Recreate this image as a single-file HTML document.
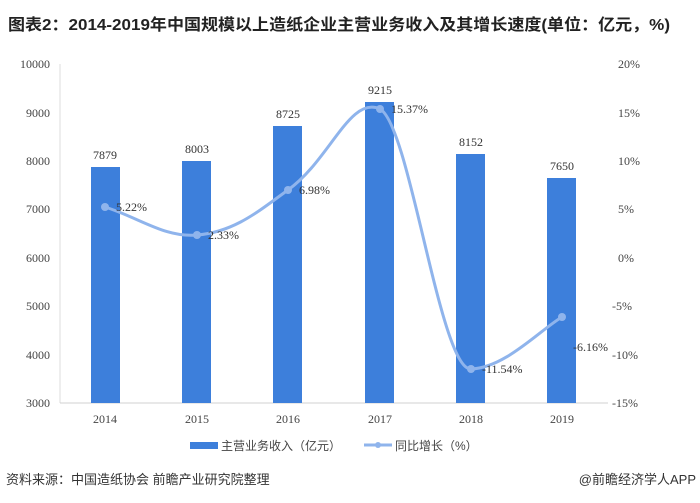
<!DOCTYPE html><html><head><meta charset="utf-8"><style>body{margin:0;background:#fff;width:700px;height:498px;overflow:hidden}</style></head><body>
<svg width="700" height="498" xmlns="http://www.w3.org/2000/svg" font-family="'Liberation Serif','Noto Serif CJK SC',serif">
<text x="8" y="30" font-family="'Liberation Sans','Noto Sans CJK SC',sans-serif" font-weight="bold" font-size="16" fill="#222" textLength="662" lengthAdjust="spacingAndGlyphs">图表2：2014-2019年中国规模以上造纸企业主营业务收入及其增长速度(单位：亿元，%)</text>
<line x1="60" y1="64" x2="60" y2="403" stroke="#ddd"/>
<line x1="60" y1="403" x2="608" y2="403" stroke="#d0d0d0"/>
<g font-size="12" fill="#444" text-anchor="end">
<text x="50" y="68">10000</text><text x="50" y="117">9000</text><text x="50" y="165">8000</text><text x="50" y="213">7000</text><text x="50" y="262">6000</text><text x="50" y="310">5000</text><text x="50" y="359">4000</text><text x="50" y="407">3000</text></g>
<g font-size="12" fill="#444" text-anchor="start">
<text x="618" y="68">20%</text><text x="618" y="117">15%</text><text x="618" y="165">10%</text><text x="618" y="213">5%</text><text x="618" y="262">0%</text><text x="612" y="310">-5%</text><text x="612" y="359">-10%</text><text x="612" y="407">-15%</text></g>
<g fill="#3d7fdb">
<rect x="91" y="167" width="29" height="236"/><rect x="182" y="161" width="29" height="242"/><rect x="273" y="126" width="29" height="277"/><rect x="365" y="102" width="29" height="301"/><rect x="456" y="154" width="29" height="249"/><rect x="547" y="178" width="29" height="225"/></g>
<g font-size="12" fill="#333" text-anchor="middle">
<text x="105" y="159">7879</text><text x="197" y="153">8003</text><text x="288" y="118">8725</text><text x="380" y="94">9215</text><text x="471" y="146">8152</text><text x="562" y="170">7650</text></g>
<path d="M105,207 C140,218 165,238 197,235 C235,232 260,210 288,190 C330,160 350,95 380,109 C410,125 440,370 471,369 C505,368 540,330 562,317" fill="none" stroke="#8fb4ec" stroke-width="3"/>
<g fill="#8fb4ec"><circle cx="105" cy="207" r="4"/><circle cx="197" cy="235" r="4"/><circle cx="288" cy="190" r="4"/><circle cx="380" cy="109" r="4"/><circle cx="471" cy="369" r="4"/><circle cx="562" cy="317" r="4"/></g>
<g font-size="12" fill="#333">
<text x="116" y="211">5.22%</text><text x="208" y="239">2.33%</text><text x="299" y="194">6.98%</text><text x="391" y="113">15.37%</text><text x="482" y="373">-11.54%</text><text x="573" y="351">-6.16%</text></g>
<g font-size="12" fill="#444" text-anchor="middle">
<text x="105" y="423">2014</text><text x="197" y="423">2015</text><text x="288" y="423">2016</text><text x="380" y="423">2017</text><text x="471" y="423">2018</text><text x="562" y="423">2019</text></g>
<g font-family="'Liberation Sans','Noto Sans CJK SC',sans-serif" font-size="12" fill="#444">
<rect x="190" y="442" width="28" height="7" fill="#3d7fdb"/><text x="221" y="450">主营业务收入（亿元）</text>
<line x1="364" y1="445" x2="392" y2="445" stroke="#8fb4ec" stroke-width="3"/><circle cx="378" cy="445" r="3" fill="#8fb4ec"/><text x="395" y="450">同比增长（%）</text>
<text x="6" y="484" font-size="13" fill="#333">资料来源：中国造纸协会 前瞻产业研究院整理</text>
<text x="696" y="484" font-size="13" fill="#333" text-anchor="end">@前瞻经济学人APP</text></g>
</svg></body></html>
